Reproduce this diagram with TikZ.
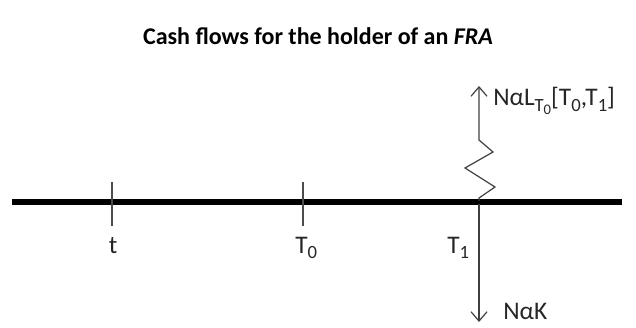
\documentclass[tikz,border=0pt]{standalone}
\usepackage{fontspec}
\setmainfont{Carlito}
\usetikzlibrary{arrows.meta}
\newcommand{\lowsub}[1]{\raisebox{-3.8pt}{\fontsize{14}{15}\selectfont #1}}
\newcommand{\lowsubsub}[1]{\raisebox{-2.8pt}{\fontsize{11}{12}\selectfont #1}}
\begin{document}
\begin{tikzpicture}[x=0.75pt,y=-0.75pt,
  tick/.style={draw=black!70,line width=1.2pt},
  flow/.style={draw=black!75,line width=0.9pt,-{Straight Barb[length=7pt,width=12pt]}},
  lbl/.style={font=\fontsize{19}{21}\selectfont,text=black!85,inner sep=0pt}]
\useasboundingbox (0,0) rectangle (636,328);
\node[font=\fontsize{18}{21}\bfseries] (title) at (318,36) {Cash flows for the holder of an \textit{FRA}};
\coordinate (L) at (12,202);
\coordinate (R) at (622,202);
\draw[line width=3.8pt] (L) -- (R);
\coordinate (ta) at (112,182); \coordinate (tb) at (112,226);
\coordinate (t0a) at (303,182); \coordinate (t0b) at (303,226);
\draw[tick] (ta) -- (tb);
\draw[tick] (t0a) -- (t0b);
\node[lbl,anchor=base] (lt) at (113,253) {t};
\node[lbl,anchor=base west] (lt0) at (295,253) {T\lowsub{0}};
\node[lbl,anchor=base west] (lt1) at (447,253) {T\lowsub{1}};
\coordinate (d0) at (479,204);
\coordinate (d1) at (479,322);
\draw[flow] (d0) -- (d1);
\node[lbl,anchor=base west] (nak) at (503,319) {Nα{}K};
\coordinate (u0) at (479,201);
\coordinate (u1) at (479,86);
\draw[flow] (u0) -- (479,198) -- (495,187) -- (465,168) -- (493,152) -- (479,140) -- (u1);
\node[lbl,anchor=base west] (nal) at (493,106) {NαL\lowsub{T\lowsubsub{0}}[T\lowsub{0},T\lowsub{1}]};
\end{tikzpicture}
\end{document}
